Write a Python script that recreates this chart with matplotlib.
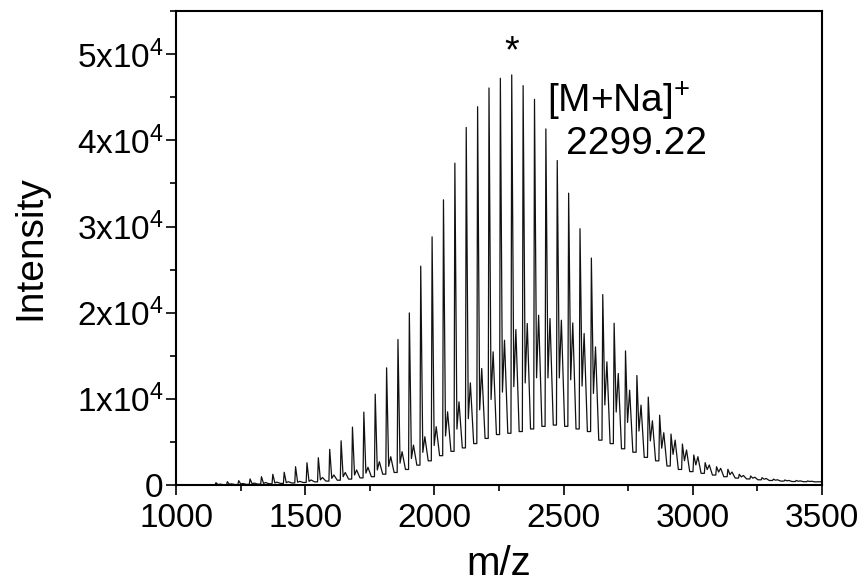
import matplotlib
matplotlib.use("Agg")
import matplotlib.pyplot as plt
from matplotlib.ticker import MultipleLocator, FixedLocator

plt.rcParams['font.family'] = ['Liberation Sans', 'DejaVu Sans']
plt.rcParams['mathtext.fontset'] = 'custom'
plt.rcParams['mathtext.rm'] = 'Liberation Sans'
plt.rcParams['mathtext.it'] = 'Liberation Sans:italic'
plt.rcParams['mathtext.bf'] = 'Liberation Sans:bold'

# ---- data (PEG-like MALDI spectrum) ----
# main series ([M+Na]+) peak positions (m/z)
main_mz = [1154.4, 1198.5, 1242.5, 1286.5, 1330.6, 1374.6, 1418.6, 1462.6,
           1506.7, 1550.7, 1594.7, 1638.8, 1682.8, 1726.8, 1770.9, 1814.9,
           1858.9, 1902.9, 1947.0, 1991.0, 2035.0, 2079.1, 2123.1, 2167.1,
           2211.2, 2255.2, 2299.2, 2343.3, 2387.3, 2431.3, 2475.3, 2519.4,
           2563.4, 2607.4, 2651.5, 2695.5, 2739.5, 2783.6, 2827.6, 2871.6,
           2915.6, 2959.7, 3003.7, 3047.7, 3091.8, 3135.8, 3179.8, 3223.9,
           3267.9, 3311.9, 3356.0, 3400.0, 3444.1]
main_int = [270, 380, 500, 700, 960, 1240, 1470, 2120,
            2580, 3160, 4140, 5130, 6720, 8460, 10540, 13600,
            16880, 19970, 25400, 28800, 33100, 37350, 41500, 43900,
            46080, 47200, 47600, 46350, 44760, 41330, 37660, 33870,
            29740, 26340, 22100, 18770, 15560, 12700, 10200, 8100,
            5910, 4750, 3480, 2590, 2120, 1820, 1240, 1040,
            850, 680, 580, 520, 470]
# second series (about +16 m/z after each main peak)
sec_mz = [1170.4, 1214.5, 1258.5, 1302.5, 1346.6, 1390.6, 1434.6, 1478.6,
          1522.7, 1566.7, 1610.7, 1654.8, 1698.8, 1742.8, 1786.9, 1830.9,
          1874.9, 1918.9, 1963.0, 2007.0, 2051.0, 2095.1, 2139.1, 2183.1,
          2227.2, 2271.2, 2315.2, 2359.3, 2403.3, 2447.3, 2491.3, 2535.4,
          2579.4, 2623.4, 2667.5, 2711.5, 2755.5, 2799.6, 2843.6, 2887.6,
          2931.6, 2975.7, 3019.7, 3063.7, 3107.8, 3151.8, 3195.8, 3239.9,
          3283.9, 3327.9, 3372.0, 3416.0, 3460.1]
sec_int = [100, 130, 170, 220, 280, 330, 380, 420,
           580, 870, 1160, 1450, 1740, 2050, 2700, 3280,
           3860, 4630, 5600, 6760, 8490, 9650, 11850, 13520,
           15450, 16800, 18040, 18740, 19700, 19320, 19120, 18810,
           17580, 16030, 14290, 12940, 11000, 9270, 7450, 6060,
           5210, 4060, 3280, 2320, 1930, 1500, 1100, 900,
           750, 600, 520, 470, 430]
# baseline valleys between the peak groups
valley_mz = [1184, 1228, 1272, 1316, 1360, 1404, 1448, 1492,
             1536, 1580, 1624, 1668, 1712, 1756, 1800, 1844,
             1888, 1932, 1976, 2020, 2064, 2108, 2152, 2196,
             2240, 2284, 2328, 2372, 2416, 2460, 2504, 2548,
             2592, 2636, 2680, 2724, 2768, 2812, 2856, 2900,
             2944, 2988, 3032, 3076, 3120, 3164, 3208, 3252,
             3296, 3340, 3384, 3428, 3472]
valley_int = [30, 50, 70, 100, 140, 180, 230, 290,
              360, 450, 550, 680, 820, 960, 1250, 1450,
              1800, 2300, 2800, 3400, 3900, 4300, 4800, 5400,
              5850, 6000, 6200, 6500, 6800, 6950, 6800, 6500,
              6200, 5200, 4800, 4200, 3800, 3200, 2800, 2200,
              1800, 1550, 1350, 1150, 960, 800, 700, 600,
              520, 450, 400, 380, 360]
start_mz, start_int = 1130, 0
end_mz, end_int = 3500, 380

xticks = [1000, 1500, 2000, 2500, 3000, 3500]
xtick_labels = ['1000', '1500', '2000', '2500', '3000', '3500']
yticks = [0, 10000, 20000, 30000, 40000, 50000]
ytick_labels = ['0', '1x10$^{4}$', '2x10$^{4}$', '3x10$^{4}$', '4x10$^{4}$', '5x10$^{4}$']

# ---- build the trace vertex list from the arrays ----
xs = [start_mz]
ys = [start_int]
for i in range(len(main_mz)):
    prev_v = valley_int[i - 1] if i > 0 else start_int
    dip = prev_v + 0.45 * (sec_int[i] - prev_v)
    xs += [main_mz[i] - 3, main_mz[i], main_mz[i] + 8, sec_mz[i], valley_mz[i]]
    ys += [prev_v, main_int[i], dip, sec_int[i], valley_int[i]]
xs.append(end_mz)
ys.append(end_int)

fig = plt.figure(figsize=(8.65, 5.85), dpi=100)
ax = fig.add_axes([0.2035, 0.171, 0.7468, 0.810])
ax.plot(xs, ys, color='#111111', lw=0.9)

ax.set_xlim(1000, 3500)
ax.set_ylim(0, 55000)
ax.xaxis.set_major_locator(FixedLocator(xticks))
ax.set_xticklabels(xtick_labels)
ax.xaxis.set_minor_locator(MultipleLocator(250))
ax.yaxis.set_major_locator(FixedLocator(yticks))
ax.set_yticklabels(ytick_labels)
ax.yaxis.set_minor_locator(MultipleLocator(5000))
ax.tick_params(which='both', direction='out', width=1.2, top=False, right=False,
               labelsize=24, colors='black')
ax.tick_params(which='major', length=7)
ax.tick_params(axis='x', which='major', pad=6)
ax.tick_params(axis='y', which='major', pad=2)
ax.tick_params(which='minor', length=4)
for s in ax.spines.values():
    s.set_linewidth(1.5)

ax.set_xlabel('m/z', fontsize=29, labelpad=8)
ax.set_ylabel('Intensity', fontsize=28, labelpad=20)

ax.text(2299.2, 48100, '*', fontsize=27, ha='center', va='bottom')
ax.text(2437, 44500, '[M+Na]$^{+}$', fontsize=28, ha='left', va='center')
ax.text(2508, 39600, '2299.22', fontsize=28, ha='left', va='center')

fig.savefig('out.png', dpi=100)
